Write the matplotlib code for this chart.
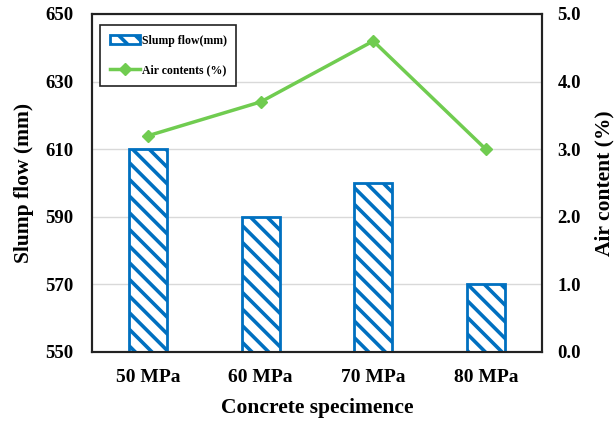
import matplotlib
matplotlib.use("Agg")
import matplotlib.pyplot as plt
import numpy as np

categories = ["50 MPa", "60 MPa", "70 MPa", "80 MPa"]
slump_flow = [610, 590, 600, 570]
air_content = [3.2, 3.7, 4.6, 3.0]
left_ticks = [550, 570, 590, 610, 630, 650]
right_ticks = [0.0, 1.0, 2.0, 3.0, 4.0, 5.0]

plt.rcParams['font.family'] = ['Liberation Serif', 'DejaVu Serif']
plt.rcParams['font.weight'] = 'bold'
plt.rcParams['hatch.linewidth'] = 2.6
plt.rcParams['hatch.color'] = '#0070C0'

fig = plt.figure(figsize=(6.15, 4.21), dpi=100)
ax = fig.add_axes([92/615, 1-352/421, 450/615, 338/421])
x = np.arange(len(categories))
bars = ax.bar(x, slump_flow, width=0.34, color='white', edgecolor='#0070C0',
              linewidth=2, hatch='\\\\', label='Slump flow(mm)', zorder=3)
ax.set_ylim(550, 650)
ax.set_xlim(-0.5, 3.5)
ax.set_yticks(left_ticks)
ax.set_yticklabels([str(t) for t in left_ticks], fontsize=13.5, fontweight='bold')
ax.set_xticks(x)
ax.set_xticklabels(categories, fontsize=14, fontweight='bold')
ax.tick_params(axis='x', length=0, pad=12)
ax.tick_params(axis='y', length=0, pad=13.5)
ax.grid(axis='y', color='#d9d9d9', linewidth=1, zorder=0)
ax.set_axisbelow(True)
ax.set_ylabel("Slump flow (mm)", fontsize=15.5, fontweight='bold', labelpad=8)
ax.set_xlabel("Concrete specimence", fontsize=15.5, fontweight='bold', labelpad=9)
for s in ax.spines.values():
    s.set_linewidth(1.5)
    s.set_color('#222222')

ax2 = ax.twinx()
line, = ax2.plot(x, air_content, color='#70CC50', linewidth=2.5, marker='D',
                 markersize=6, label='Air contents (%)', zorder=4)
ax2.set_ylim(0, 5)
ax2.set_yticks(right_ticks)
ax2.set_yticklabels([f"{t:.1f}" for t in right_ticks], fontsize=13.5, fontweight='bold')
ax2.tick_params(length=0, pad=11)
ax2.set_ylabel("Air content (%)", fontsize=15.5, fontweight='bold', labelpad=10)
for s in ax2.spines.values():
    s.set_linewidth(1.5)
    s.set_color('#222222')

leg = ax2.legend([bars, line], ['Slump flow(mm)', 'Air contents (%)'],
                 loc='upper left', bbox_to_anchor=(0.018, 0.967),
                 prop={'family': 'Liberation Serif', 'weight': 'bold', 'size': 8.5},
                 fancybox=False, edgecolor='#222222', framealpha=1,
                 borderpad=0.8, labelspacing=1.5, handlelength=2.6, handletextpad=0.15,
                 borderaxespad=0)
leg.get_frame().set_linewidth(1.2)

fig.savefig("out.png", dpi=100)
